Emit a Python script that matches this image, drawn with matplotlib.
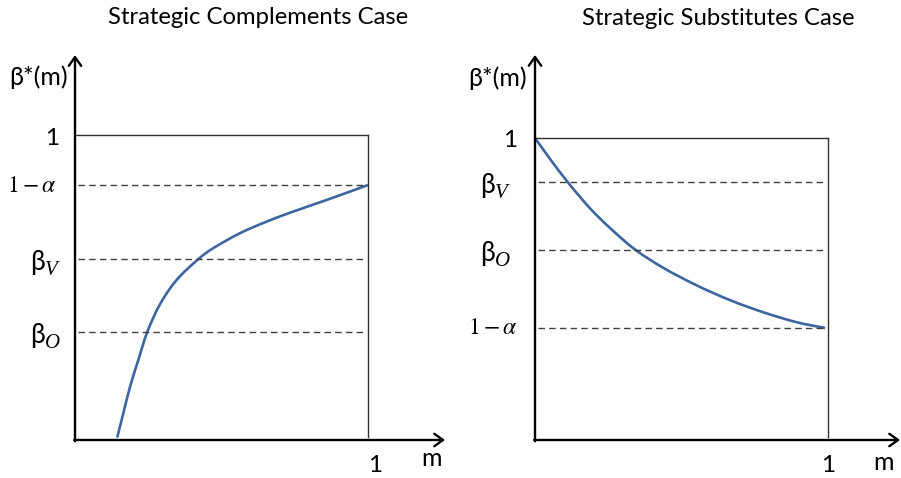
import matplotlib
matplotlib.use("Agg")
import matplotlib.pyplot as plt
import numpy as np
from matplotlib.path import Path
from matplotlib.patches import PathPatch

plt.rcParams['font.family'] = ['Lato', 'Noto Sans', 'DejaVu Sans']
plt.rcParams['mathtext.fontset'] = 'stix'

# beta*(m) curves, read point by point (m on [0, 1])
comp_m = [0.144, 0.165, 0.188, 0.216, 0.247, 0.290, 0.347, 0.421,
          0.472, 0.563, 0.654, 0.745, 0.859, 1.000]
comp_beta = [0.008, 0.088, 0.175, 0.262, 0.355, 0.445, 0.525, 0.593,
             0.629, 0.678, 0.716, 0.749, 0.787, 0.836]

subs_m = [0.000, 0.051, 0.114, 0.188, 0.256, 0.341, 0.438, 0.552,
          0.666, 0.779, 0.893, 0.990]
subs_beta = [1.000, 0.931, 0.851, 0.767, 0.702, 0.631, 0.570, 0.512,
             0.463, 0.423, 0.390, 0.371]

# reference levels
comp_levels = {'1-alpha': 0.836, 'V': 0.593, 'O': 0.354}
subs_levels = {'V': 0.854, 'O': 0.629, '1-alpha': 0.371}

titles = ['Strategic Complements Case', 'Strategic Substitutes Case']

CURVE = '#3D65A0'
BOX = '#303030'
DASH = '#404040'
SERIF = 'Liberation Serif'


def smooth_path(x, y):
    # Catmull-Rom through the points, written as cubic Bezier segments
    pts = np.column_stack([x, y])
    verts = [pts[0]]
    codes = [Path.MOVETO]
    n = len(pts)
    for i in range(n - 1):
        p0 = pts[i - 1] if i > 0 else pts[i]
        p1, p2 = pts[i], pts[i + 1]
        p3 = pts[i + 2] if i + 2 < n else pts[i + 1]
        verts += [p1 + (p2 - p0) / 6, p2 - (p3 - p1) / 6, p2]
        codes += [Path.CURVE4] * 3
    return Path(verts, codes)


def beta_label(ax, x, y, sub):
    ax.text(x, y, 'β', ha='left', va='center', fontsize=19, clip_on=False)
    ax.annotate(sub, xy=(x, y), xytext=(10.5, -6), textcoords='offset points',
                ha='left', va='center', fontsize=15, family=SERIF,
                style='italic', annotation_clip=False)


def draw_panel(ax, m, beta, levels, title, yarrow, xarrow, lbl):
    ax.set_xlim(0, 1)
    ax.set_ylim(0, 1)
    ax.axis('off')

    # axes with arrow heads
    arrow = dict(arrowstyle='->,head_length=0.45,head_width=0.32',
                 lw=1.7, color='black', mutation_scale=14,
                 shrinkA=0, shrinkB=0)
    ax.annotate('', xy=(0, yarrow), xytext=(0, -0.004), arrowprops=arrow,
                annotation_clip=False)
    ax.annotate('', xy=(xarrow, 0), xytext=(-0.003, 0), arrowprops=arrow,
                annotation_clip=False)

    # unit box
    ax.plot([0, 1], [1, 1], color=BOX, lw=1.0, clip_on=False)
    ax.plot([1, 1], [0.01, 1], color=BOX, lw=1.0, clip_on=False)

    # dashed reference levels
    for v in levels.values():
        ax.plot([0.01, 0.99], [v, v], color=DASH, lw=1.0,
                dashes=(4.7, 3.0), clip_on=False)

    ax.add_patch(PathPatch(smooth_path(m, beta), fill=False, edgecolor=CURVE,
                           lw=1.9, capstyle='butt', joinstyle='round',
                           clip_on=False))

    ax.text(0.625, lbl['title_y'], title, ha='center', va='center',
            fontsize=17.2, clip_on=False)
    ax.text(lbl['ylab_x'], lbl['ylab_y'], 'β*(m)', ha='right', va='center',
            fontsize=18, clip_on=False)
    ax.text(lbl['one_x'], lbl['one_y'], '1', ha='center', va='center',
            fontsize=17.5, clip_on=False)
    ax.text(lbl['alpha_x'], levels['1-alpha'], r'$1-\alpha$', ha='right',
            va='center', fontsize=17, clip_on=False)
    beta_label(ax, lbl['beta_x'], levels['V'] - lbl['beta_dy'], 'V')
    beta_label(ax, lbl['beta_x'], levels['O'] - lbl['beta_dy'], 'O')
    ax.text(1.0 + lbl['xone_dx'], lbl['xone_y'], '1', ha='center',
            va='center', fontsize=17.5, clip_on=False)
    ax.text(lbl['m_x'], lbl['m_y'], 'm', ha='center', va='center',
            fontsize=18, clip_on=False)


fig = plt.figure(figsize=(9.01, 4.78), dpi=100)
W, H = 901, 478

ax1 = fig.add_axes([75 / W, 38 / H, 293 / W, 305 / H])
ax2 = fig.add_axes([535 / W, 38 / H, 293 / W, 302 / H])

draw_panel(ax1, comp_m, comp_beta, comp_levels, titles[0], 1.262, 1.263,
           dict(title_y=1.384, ylab_x=-0.024, ylab_y=1.190, one_x=-0.078,
                one_y=0.990, alpha_x=-0.061, beta_x=-0.154, beta_dy=0.01,
                xone_dx=0.024, xone_y=-0.082, m_x=1.218, m_y=-0.062))
draw_panel(ax2, subs_m, subs_beta, subs_levels, titles[1], 1.275, 1.246,
           dict(title_y=1.397, ylab_x=-0.027, ylab_y=1.199, one_x=-0.085,
                one_y=0.993, alpha_x=-0.058, beta_x=-0.188, beta_dy=0.01,
                xone_dx=0.0, xone_y=-0.083, m_x=1.188, m_y=-0.073))

fig.savefig('out.png', dpi=100)
